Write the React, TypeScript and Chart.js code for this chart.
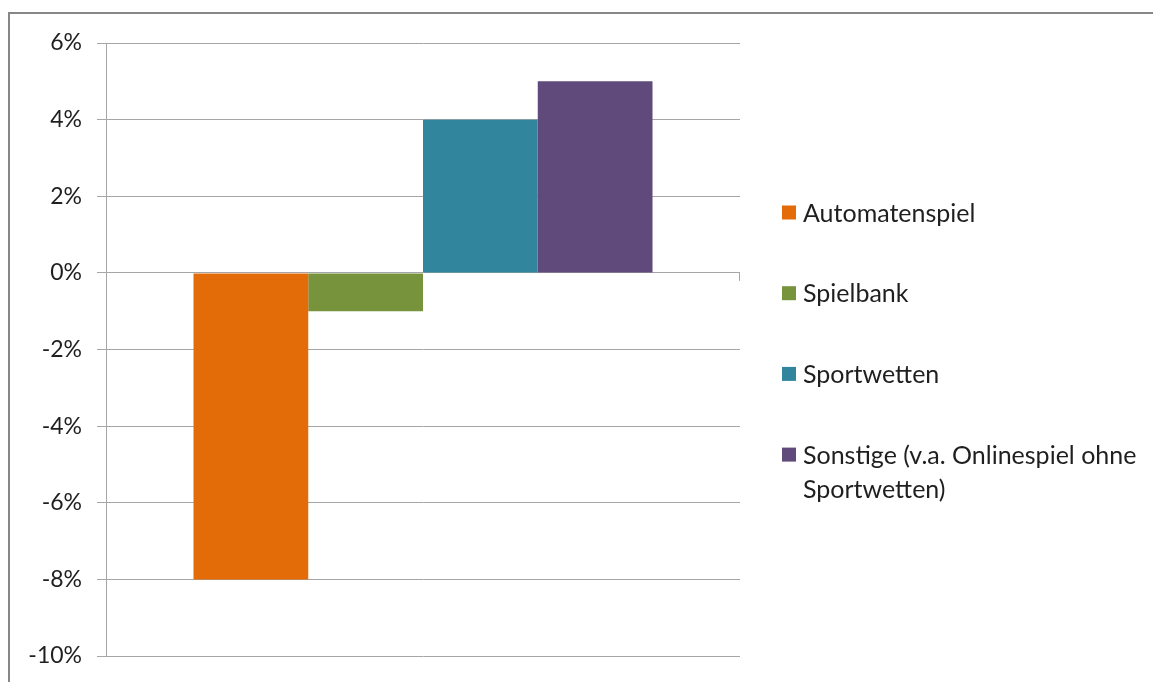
import React, { useEffect, useRef } from "react";
import { Chart, registerables } from "chart.js";

Chart.register(...registerables);

const categories = [""];
const seriesLabels = [
  "Automatenspiel",
  "Spielbank",
  "Sportwetten",
  "Sonstige (v.a. Onlinespiel ohne Sportwetten)",
];
const seriesValues = [-8, -1, 4, 5];
const seriesColors = ["#E36C09", "#77933C", "#31859C", "#604A7B"];
const yMin = -10;
const yMax = 6;
const yStep = 2;

const FONT = "Lato, 'Open Sans', sans-serif";
const TEXT = "#1f1f1f";
const GRID = "#a6a6a6";

const legendPlugin = {
  id: "sideLegend",
  afterDraw(chart: any) {
    const ctx = chart.ctx;
    const ds = chart.data.datasets;
    const x0 = 782;
    const textX = 803;
    const firstY = 212.5;
    const gap = 80.7;
    const lineH = 34;
    const maxW = 348;
    ctx.save();
    ctx.font = `25px ${FONT}`;
    ctx.textBaseline = "middle";
    ctx.textAlign = "left";
    ds.forEach((d: any, i: number) => {
      const cy = firstY + i * gap;
      ctx.fillStyle = d.backgroundColor;
      ctx.fillRect(x0, cy - 7, 14, 14);
      const words = String(d.label).split(" ");
      const lines: string[] = [];
      let cur = "";
      words.forEach((w) => {
        const test = cur ? cur + " " + w : w;
        if (ctx.measureText(test).width > maxW && cur) {
          lines.push(cur);
          cur = w;
        } else cur = test;
      });
      if (cur) lines.push(cur);
      ctx.fillStyle = TEXT;
      lines.forEach((ln, k) => ctx.fillText(ln, textX, cy + 1 + k * lineH));
    });
    // small category tick mark on zero line
    const ys = chart.scales.y;
    const y0 = ys.getPixelForValue(0);
    ctx.strokeStyle = GRID;
    ctx.lineWidth = 1;
    ctx.beginPath();
    ctx.moveTo(chart.chartArea.right - 0.5, y0);
    ctx.lineTo(chart.chartArea.right - 0.5, y0 + 8);
    ctx.stroke();
    ctx.restore();
  },
};

export default function App() {
  const ref = useRef<HTMLCanvasElement | null>(null);
  useEffect(() => {
    if (!ref.current) return;
    const chart = new Chart(ref.current, {
      type: "bar",
      data: {
        labels: categories,
        datasets: seriesLabels.map((label, i) => ({
          label,
          data: [seriesValues[i]],
          backgroundColor: seriesColors[i],
          borderWidth: 0,
          categoryPercentage: 0.724,
          barPercentage: 1,
        })),
      },
      options: {
        animation: false,
        responsive: false,
        maintainAspectRatio: false,
        layout: { padding: { left: 0, right: 413, top: 43, bottom: 26 } },
        plugins: { legend: { display: false }, tooltip: { enabled: false } },
        scales: {
          x: { display: false },
          y: {
            min: yMin,
            max: yMax,
            afterFit: (s: any) => {
              s.width = 106;
              s.paddingTop = 0;
              s.paddingBottom = 0;
            },
            ticks: {
              stepSize: yStep,
              padding: 15,
              color: TEXT,
              font: { family: FONT, size: 23 },
              callback: (v: any) => `${v}%`,
            },
            grid: { color: GRID, tickLength: 9, lineWidth: 1 },
            border: { display: true, color: GRID, width: 1 },
          },
        },
      },
      plugins: [legendPlugin],
    });
    return () => chart.destroy();
  }, []);
  return (
    <div
      style={{
        position: "fixed",
        left: 0,
        top: 0,
        width: 1153,
        height: 682,
        background: "#fff",
        overflow: "hidden",
      }}
    >
      <div
        style={{
          position: "absolute",
          left: 8,
          top: 12,
          width: 1200,
          height: 800,
          borderLeft: "2px solid #878787",
          borderTop: "2px solid #878787",
        }}
      />
      <canvas
        ref={ref}
        width={1153}
        height={682}
        style={{ position: "absolute", left: 0, top: 0, width: 1153, height: 682 }}
      />
    </div>
  );
}
